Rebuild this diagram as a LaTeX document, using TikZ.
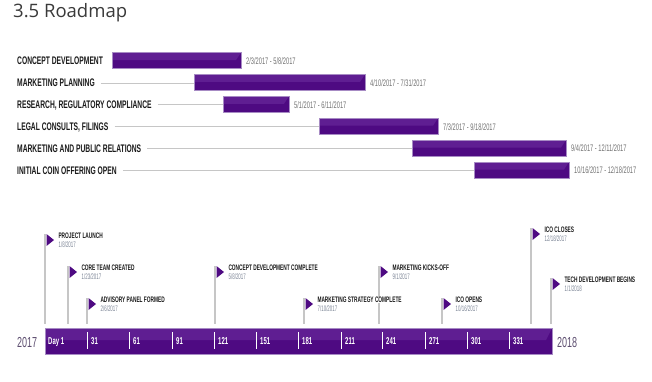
\documentclass[tikz,border=0pt]{standalone}
\usepackage{fontspec}
\setmainfont{Liberation Sans}
\newfontfamily\titlefont{Open Sans}
\newfontfamily\condlbl[FakeStretch=0.61]{Liberation Sans}
\newfontfamily\conddate[FakeStretch=0.6]{Liberation Sans}
\newfontfamily\condms[FakeStretch=0.6]{Liberation Sans}
\newfontfamily\condmd[FakeStretch=0.55]{Liberation Sans}
\newfontfamily\condday[FakeStretch=0.6]{Liberation Sans}
\newfontfamily\condyear[FakeStretch=0.62]{Liberation Sans}
\definecolor{bardark}{HTML}{4E0A82}
\definecolor{barlight}{HTML}{5F1E92}
\definecolor{barborder}{HTML}{A78BC4}
\definecolor{flagc}{HTML}{4E0A82}
\definecolor{labelc}{HTML}{1A1A1A}
\definecolor{datec}{HTML}{737373}
\definecolor{mdatec}{HTML}{7C8596}
\definecolor{yearc}{HTML}{5D4E70}
\definecolor{linec}{HTML}{C6C6C6}
\definecolor{titlec}{HTML}{3A3A3A}
\tikzset{
  lbl/.style={anchor=base west, inner sep=0pt, font=\condlbl\bfseries\fontsize{11}{12}\selectfont, text=labelc},
  dt/.style={anchor=base west, inner sep=0pt, font=\conddate\fontsize{9.5}{10}\selectfont, text=datec},
  mtitle/.style={anchor=base west, inner sep=0pt, outer sep=0pt, fill=white, font=\condms\bfseries\fontsize{8}{9}\selectfont, text=labelc},
  mdate/.style={anchor=base west, inner sep=0pt, font=\condmd\fontsize{8}{9}\selectfont, text=mdatec},
  gline/.style={draw=linec, line width=0.8pt},
  pole/.style={draw=linec, line width=1.1pt},
  flagtri/.style={fill=flagc},
  ticksep/.style={draw=white, line width=0.7pt},
  daylbl/.style={anchor=base west, inner sep=0pt, font=\condday\bfseries\fontsize{10}{11}\selectfont, text=white},
  yearlbl/.style={anchor=base west, inner sep=0pt, font=\condyear\fontsize{14.5}{16}\selectfont, text=yearc},
  barborderline/.style={draw=barborder, line width=0.6pt},
}
\newcommand\ganttrow[5]{%
  \pgfmathsetmacro\cy{61+21.9*(#1-1)}%
  \node[lbl] (l#1) at (17,\cy+3.9) {#2};
  \fill[bardark] (#3,\cy-8.5) rectangle (#4,\cy+7.5);
  \fill[barlight] (#3,\cy-8.5) -- (#4,\cy-8.5) -- (#4-5,\cy-1) -- (#3,\cy-1) -- cycle;
  \draw[barborderline] (#3,\cy-8.5) rectangle (#4,\cy+7.5);
  \coordinate (bs#1) at (#3,\cy);
  \node[dt] (d#1) at (#4+5,\cy+3.3) {#5};
}
\newcommand\mpole[3]{%
  \coordinate (pt#1) at (#2,#3);
  \coordinate (pb#1) at (#2,324);
  \draw[pole] (pt#1) -- (pb#1);
}
\newcommand\mflag[5]{%
  \fill[flagtri] (#2+1.5,#3) -- (#2+9,#3+6) -- (#2+1.5,#3+12) -- cycle;
  \node[mtitle] (t#1) at (#2+13.5,#3+4.8) {#4};
  \node[mdate] (m#1) at (#2+13.5,#3+13.3) {#5};
}
\begin{document}
\begin{tikzpicture}[x=1pt,y=-1pt]
\useasboundingbox (0,0) rectangle (652,381);
\fill[white] (0,0) rectangle (652,381);

\node[anchor=base west, inner sep=0pt, font=\titlefont\fontsize{18.5}{20}\selectfont, text=titlec] (title) at (13,17) {3.5 Roadmap};

% Gantt
\ganttrow{1}{CONCEPT DEVELOPMENT}{112}{241}{2/3/2017 - 5/8/2017}
\ganttrow{2}{MARKETING PLANNING}{194}{365}{4/10/2017 - 7/31/2017}
\ganttrow{3}{RESEARCH, REGULATORY COMPLIANCE}{223}{289}{5/1/2017 - 6/11/2017}
\ganttrow{4}{LEGAL CONSULTS, FILINGS}{319}{438}{7/3/2017 - 9/18/2017}
\ganttrow{5}{MARKETING AND PUBLIC RELATIONS}{412}{566}{9/4/2017 - 12/11/2017}
\ganttrow{6}{INITIAL COIN OFFERING OPEN}{474}{569}{10/16/2017 - 12/18/2017}
\foreach \r in {2,...,6}{
  \draw[gline] ([xshift=6pt]l\r.east |- bs\r) -- ([xshift=-0.5pt]bs\r);
}

% Milestone poles
\mpole{1}{45}{234}
\mpole{2}{68}{266}
\mpole{3}{87}{298}
\mpole{4}{215}{266}
\mpole{5}{304}{298}
\mpole{6}{379}{266}
\mpole{7}{442}{298}
\mpole{8}{531}{228}
\mpole{9}{551}{278}
% Milestone flags and texts
\mflag{1}{45}{234}{PROJECT LAUNCH}{1/8/2017}
\mflag{2}{68}{266}{CORE TEAM CREATED}{1/23/2017}
\mflag{3}{87}{298}{ADVISORY PANEL FORMED}{2/6/2017}
\mflag{4}{215}{266}{CONCEPT DEVELOPMENT COMPLETE}{5/8/2017}
\mflag{5}{304}{298}{MARKETING STRATEGY COMPLETE}{7/10/2017}
\mflag{6}{379}{266}{MARKETING KICKS-OFF}{9/1/2017}
\mflag{7}{442}{298}{ICO OPENS}{10/16/2017}
\mflag{8}{531}{228}{ICO CLOSES}{12/18/2017}
\mflag{9}{551}{278}{TECH DEVELOPMENT BEGINS}{1/1/2018}

% Timeline axis
\fill[bardark] (45,328) rectangle (552,354);
\fill[barlight] (45,328) -- (552,328) -- (546,340) -- (45,340) -- cycle;
\draw[barborderline] (45,328) rectangle (552,354);
\node[daylbl] (day1) at (48,344.3) {Day 1};
\foreach \t/\lab in {87/31,129/61,172/91,214/121,256/151,298/181,341/211,382/241,425/271,467/301,509/331}{
  \draw[ticksep] (\t,332) -- (\t,349);
  \node[daylbl] (tk\lab) at (\t+4,344.3) {\lab};
}
\node[yearlbl] (y2017) at (17,347.5) {2017};
\node[yearlbl] (y2018) at (557,347.5) {2018};
\end{tikzpicture}
\end{document}
